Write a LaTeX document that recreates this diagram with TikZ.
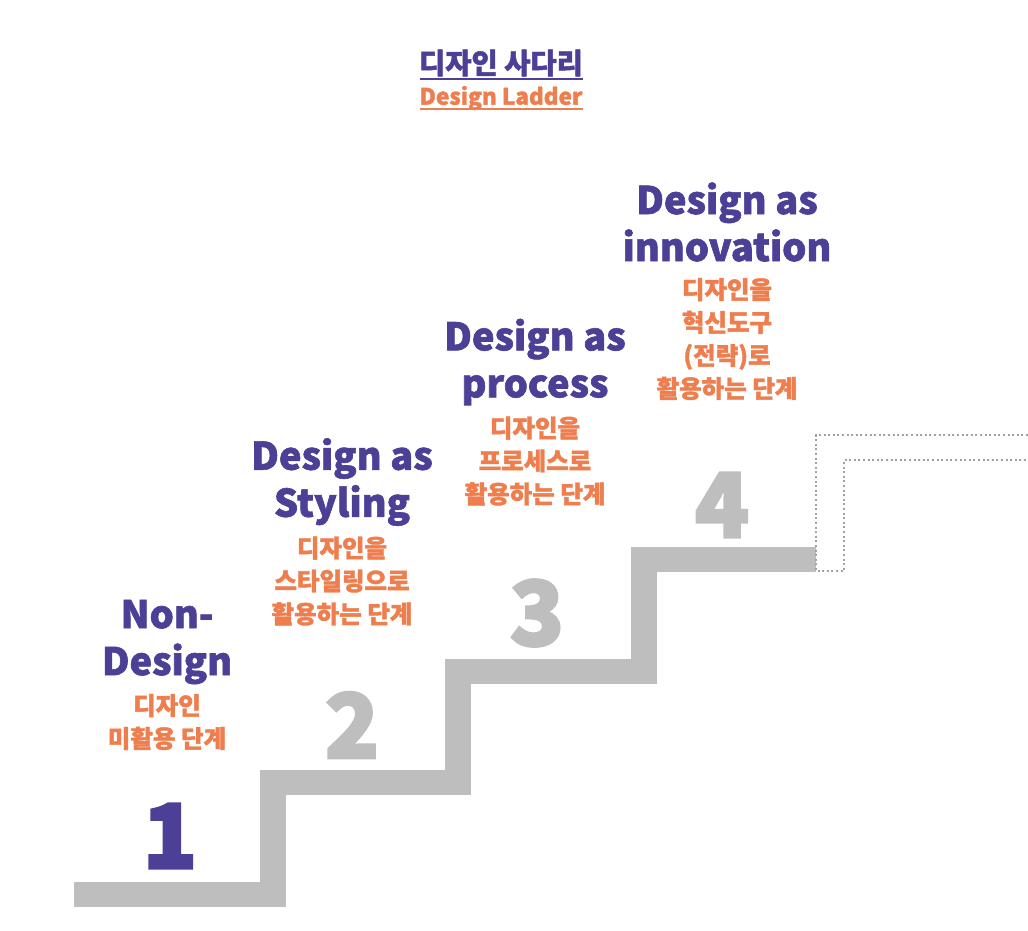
\documentclass[tikz,border=0pt]{standalone}
\usepackage{fontspec}
\setmainfont{Noto Sans CJK KR}[BoldFeatures={FakeBold=1.6}]
\newfontfamily\numfont{Noto Sans CJK KR}[BoldFeatures={FakeBold=3}]
\usepackage{tikz}

\definecolor{ladderpurple}{RGB}{75,63,150}
\definecolor{ladderorange}{RGB}{238,126,78}
\definecolor{laddergray}{RGB}{190,190,190}

\begin{document}
\begin{tikzpicture}[x=1pt,y=-1pt,
    head/.style={align=center,text=ladderpurple,font=\bfseries\fontsize{38}{47}\selectfont,inner sep=0pt},
    sub/.style={align=center,text=ladderorange,font=\bfseries\fontsize{24.5}{33}\selectfont,inner sep=0pt},
    num/.style={text=laddergray,font=\numfont\bfseries\fontsize{89}{89}\selectfont,inner sep=0pt}]
      \useasboundingbox (0,0) rectangle (1028,931);
      % title
      \node[text=ladderpurple,font=\bfseries\fontsize{28.5}{30}\selectfont,inner sep=0pt] (title) at (501,63) {디자인 사다리};
      \draw[ladderpurple,line width=1.3pt] (420,79) -- (583,79);
      \node[text=ladderorange,font=\bfseries\fontsize{22.5}{24}\selectfont,inner sep=0pt] (subtitle) at (501,98) {Design Ladder};
      \draw[ladderorange,line width=1.1pt] (420,109) -- (583,109);
      % stairs
      \draw[laddergray,line width=25.5pt,miter limit=10]
      (74,894.5) -- (273,894.5) -- (273,782.5) -- (458,782.5) -- (458,671.5)
      -- (644,671.5) -- (644,559.5) -- (816,559.5);
      \draw[laddergray!85!black,line width=2.2pt,dash pattern=on 2pt off 2.6pt]
      (1028,435) -- (816,435) -- (816,571) -- (844,571) -- (844,460) -- (1028,460);
      % steps
      \node[num,text=ladderpurple] (n1) at (170,836) {1};
      \node[num] (n2) at (352,725) {2};
      \node[num] (n3) at (537,613) {3};
      \node[num] (n4) at (722,505) {4};
      \node[head] (h1) at (167,642) {Non-\\Design};
      \node[sub] (s1) at (167,722) {디자인\\미활용 단계};
      \node[head] (h2) at (342,482) {Design as\\Styling};
      \node[sub] (s2) at (342,581) {디자인을\\스타일링으로\\활용하는 단계};
      \node[head] (h3) at (535,362) {Design as\\process};
      \node[sub] (s3) at (535,461) {디자인을\\프로세스로\\활용하는 단계};
      \node[head] (h4) at (727,222) {Design as\\innovation};
      \node[sub] (s4) at (727,339) {디자인을\\혁신도구\\(전략)로\\활용하는 단계};
    \end{tikzpicture}
\end{document}
